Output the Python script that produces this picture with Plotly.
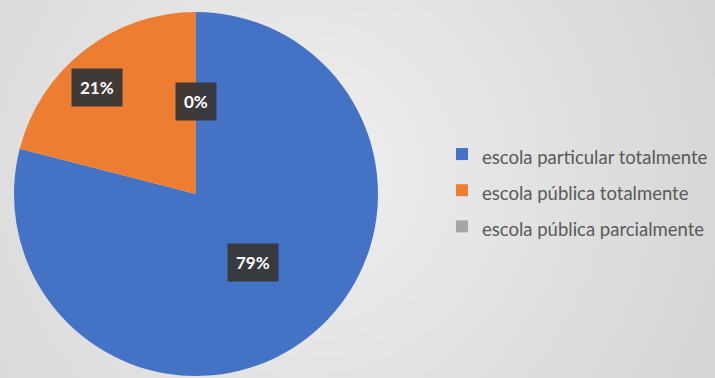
import math, zlib, struct, base64
import plotly.graph_objects as go

categories = ["escola particular totalmente", "escola pública totalmente", "escola pública parcialmente"]
values = [79, 21, 0]
colors = ["#4472C4", "#ED7D31", "#A5A5A5"]
# label placement style: (radial fraction, angle nudge in degrees)
label_style = [(0.49, -2), (0.80, -5), (0.51, 0)]

W, H = 715, 378

# --- radial gradient background as a tiny PNG ---
def make_png(w, h, cx, cy, rad, c0, c1):
    raw = bytearray()
    for j in range(h):
        raw.append(0)
        for i in range(w):
            d = math.hypot(i - cx, j - cy) / rad
            t = min(1.0, d)
            v = int(round(c0 + (c1 - c0) * t))
            raw += bytes([v, v, v])
    def chunk(tag, data):
        c = struct.pack(">I", len(data)) + tag + data
        return c + struct.pack(">I", zlib.crc32(tag + data) & 0xffffffff)
    png = b"\x89PNG\r\n\x1a\n" + chunk(b"IHDR", struct.pack(">IIBBBBB", w, h, 8, 2, 0, 0, 0))
    png += chunk(b"IDAT", zlib.compress(bytes(raw), 9)) + chunk(b"IEND", b"")
    return "data:image/png;base64," + base64.b64encode(png).decode()

sw, sh = 143, 76
bg = make_png(sw, sh, 300 / 5, 170 / 5, 430 / 5, 240, 214)

# pie geometry (domain in paper fraction)
px0, px1 = 14 / W, 378 / W
py0, py1 = 2 / H, 366 / H

total = sum(values)
pct = [round(v / total * 100) for v in values]

fig = go.Figure()
fig.add_trace(go.Pie(
    labels=[f'<span style="font-size:18.5px">{c}</span>' for c in categories],
    values=values,
    marker=dict(colors=colors, line=dict(width=0)),
    sort=False,
    direction="clockwise",
    rotation=0,
    textinfo="none",
    hovertemplate="%{percent}<extra></extra>",
    domain=dict(x=[px0, px1], y=[py0, py1]),
    showlegend=True,
))

# data label boxes, placed from slice mid-angles
cxp = (px0 + px1) / 2 * W
cyp = (py0 + py1) / 2 * H  # from bottom
R = 182
cum = 0
for v, p, (rf, nud) in zip(values, pct, label_style):
    mid = (cum + v / 2) / total * 360 + nud
    cum += v
    ang = math.radians(mid)
    x = cxp + rf * R * math.sin(ang)
    y = cyp + rf * R * math.cos(ang)
    fig.add_annotation(
        x=x / W, y=y / H, xref="paper", yref="paper",
        text=f"<b>{p}%</b>", showarrow=False,
        font=dict(family="Lato, Open Sans, sans-serif", size=17, color="white"),
        bgcolor="rgba(55,55,55,0.95)", borderpad=8,
        xanchor="center", yanchor="middle",
    )

fig.update_layout(
    width=W, height=H,
    margin=dict(l=0, r=0, t=0, b=0),
    paper_bgcolor="#e6e6e6",
    plot_bgcolor="rgba(0,0,0,0)",
    images=[dict(source=bg, xref="paper", yref="paper", x=0, y=1,
                 sizex=1, sizey=1, sizing="stretch", layer="below",
                 xanchor="left", yanchor="top")],
    showlegend=True,
    legend=dict(
        x=442 / W, y=(H - 131) / H, xanchor="left", yanchor="top",
        bgcolor="rgba(0,0,0,0)",
        font=dict(family="Lato, Open Sans, sans-serif", size=25.5, color="#595959"),
        traceorder="normal",
    ),
)

fig.write_html("out.html")
